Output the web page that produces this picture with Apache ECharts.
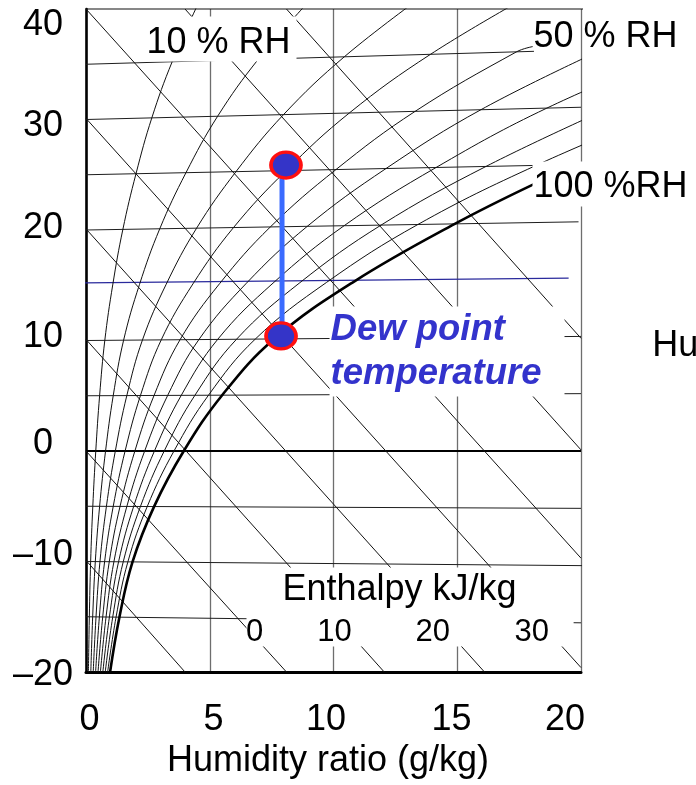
<!DOCTYPE html>
<html>
<head>
<meta charset="utf-8">
<script src="https://cdn.jsdelivr.net/npm/echarts@6/dist/echarts.min.js"></script>
<style>html,body{margin:0;padding:0;background:#fff}#chart{width:696px;height:785px}</style>
</head>
<body>
<div id="chart"></div>
<script>
// ---------------- DATA ----------------
// x = humidity ratio (g/kg), y = temperature scale (°C, skewed chart coordinate)
const xTicks = [0, 5, 10, 15, 20];
const xTickLabels = ['0', '5', '10', '15', '20'];
const yTicks = [-20, -10, 0, 10, 20, 30, 40];
const yTickLabels = ['–20', '–10', '0', '10', '20', '30', '40'];

// relative-humidity curves
const rh10 = [[0.097,-20],[0.135,-15],[0.188,-10],[0.275,-5],[0.395,0],[0.55,5.01],[0.76,10.01],[1.08,15.03],[1.49,20.06],[2.02,25.09],[2.66,30.15],[3.48,35.22],[4.5,40.33]];
const rh20 = [[0.194,-20.01],[0.27,-15.01],[0.376,-10.01],[0.55,-5.01],[0.79,0],[1.1,5.01],[1.52,10.03],[2.16,15.06],[2.98,20.11],[4.04,25.19],[5.32,30.3],[6.96,35.45],[9.0,40.67]];
const rh30 = [[0.291,-20.01],[0.405,-15.01],[0.564,-10.01],[0.825,-5.01],[1.185,0],[1.65,5.02],[2.28,10.04],[3.24,15.09],[4.47,20.17],[6.06,25.28],[7.98,30.44],[10.44,35.68],[13.5,41.0]];
const rh40 = [[0.388,-20.01],[0.54,-15.02],[0.752,-10.01],[1.1,-5.01],[1.58,0],[2.2,5.02],[3.04,10.06],[4.32,15.12],[5.96,20.22],[8.08,25.37],[10.64,30.59],[13.92,35.9],[18.0,41.33]];
const rh50 = [[0.485,-20.02],[0.675,-15.02],[0.94,-10.02],[1.375,-5.01],[1.975,0],[2.75,5.03],[3.8,10.07],[5.4,15.15],[7.45,20.28],[10.1,25.47],[13.3,30.74],[17.4,36.13],[18.05,36.6]];
const rh60 = [[0.582,-20.02],[0.81,-15.02],[1.128,-10.02],[1.65,-5.02],[2.37,0],[3.3,5.03],[4.56,10.08],[6.48,15.18],[8.94,20.33],[12.12,25.56],[15.96,30.89],[20.88,36.35]];
const rh70 = [[0.679,-20.03],[0.945,-15.03],[1.316,-10.02],[1.925,-5.02],[2.765,0],[3.85,5.04],[5.32,10.1],[7.56,15.2],[10.43,20.39],[14.14,25.65],[18.62,31.03],[24.36,36.58]];
const rh80 = [[0.776,-20.03],[1.08,-15.03],[1.504,-10.03],[2.2,-5.02],[3.16,0],[4.4,5.04],[6.08,10.11],[8.64,15.23],[11.92,20.44],[16.16,25.75],[21.28,31.18]];
const rh90 = [[0.873,-20.03],[1.215,-15.03],[1.692,-10.03],[2.475,-5.02],[3.555,0],[4.95,5.05],[6.84,10.13],[9.72,15.26],[13.41,20.5],[18.18,25.84],[23.94,31.33]];
const rh100 = [[0.97,-20.04],[1.35,-15.04],[1.88,-10.03],[2.75,-5.03],[3.95,0],[5.5,5.05],[7.6,10.14],[10.8,15.29],[14.9,20.55],[18.1,24.15]];

// dry-bulb isotherms (slightly skewed)
const isotherms = [
  [[0,35],[18.1,36.17]],
  [[0,30],[20,31.11]],
  [[0,25],[20,25.93]],
  [[0,20],[19.9,20.74]],
  [[0,10],[20,10.37]],
  [[0,5],[20,5.19]],
  [[0,-5],[20,-5.19]],
  [[0,-10],[20.3,-10.38]],
  [[0,-15],[20,-15.55]]
];
const isotherm0 = [[0,0],[20,0]];
const isotherm15 = [[-0.53,15.2],[19.5,15.65]];
const topBorder = [[0,40],[20.65,40]];

// enthalpy lines (-10 ... 60 kJ/kg)
const enthalpyLines = [
  [[0,-9.9],[4.0,-20]],
  [[0,0],[8.1,-20]],
  [[0,10.1],[12.05,-20]],
  [[0,20.1],[16.1,-20]],
  [[0,30.1],[20,-19.6]],
  [[0,40],[20,-9.7]],
  [[4.0,40],[20,0.1]],
  [[8.1,40],[20,10.2]]
];

// dew point illustration
const dewLine = [[7.92,10.41],[7.92,25.88]];
const dewMarkers = [[8.08,25.88],[7.88,10.41]];

// texts
const rhLabels = ['10 % RH', '50 % RH', '100 %RH'];
const dewLabel = 'Dew point\ntemperature';
const enthalpyTitle = 'Enthalpy kJ/kg';
const enthalpyTickLabels = ['0', '10', '20', '30'];
const xName = 'Humidity ratio (g/kg)';
const sideText = 'Hu';

// ---------------- LAYOUT / STYLE ----------------
const FONT = '"Liberation Sans", Arial, Helvetica, sans-serif';
const FS = 36;
const yShift = {'40':16,'30':7,'20':-1.5,'10':-3.5,'0':-7,'-10':-6.5,'-20':3};
const xShift = {'0':3.5,'5':3.75,'10':-7.5,'15':-5.8,'20':-16};
const yRich = {}, xRich = {};
yTicks.forEach((v, i) => {
  const s = yShift[String(v)] || 0;
  yRich['y' + i] = {fontSize: FS, fontFamily: FONT, color: '#000', lineHeight: FS,
    padding: s >= 0 ? [2 * s, 0, 0, 0] : [0, 0, -2 * s, 0]};
});
xTicks.forEach((v, i) => {
  const s = xShift[String(v)] || 0;
  xRich['x' + i] = {fontSize: FS, fontFamily: FONT, color: '#000', lineHeight: FS,
    padding: s >= 0 ? [0, 0, 0, 2 * s] : [0, -2 * s, 0, 0]};
});

const series = [];
function addLine(data, color, width, extra) {
  series.push(Object.assign({
    type: 'line', data: data, symbol: 'none', showSymbol: false, silent: true,
    animation: false, z: 2, lineStyle: {color: color, width: width}
  }, extra || {}));
}
isotherms.forEach(seg => addLine(seg, '#1e1e1e', 1, {clip: false}));
addLine(isotherm0, '#000', 2.2);
addLine(isotherm15, '#2a2a9c', 1.2, {clip: false});
addLine(topBorder, '#111', 1.2, {clip: false});
enthalpyLines.forEach(seg => addLine(seg, '#111', 1));
[rh10, rh20, rh30, rh40, rh50, rh60, rh70, rh80, rh90].forEach(c =>
  addLine(c, '#111', 1, {smooth: 0.4}));
addLine(rh100, '#000', 2.6, {smooth: 0.4});
addLine(dewLine, '#3a6bff', 5, {z: 4});

series.push({
  type: 'scatter', data: dewMarkers, symbol: 'circle', symbolSize: [30, 26],
  silent: true, animation: false, z: 6,
  itemStyle: {color: '#3434c8', borderColor: '#ff1010', borderWidth: 3.5, opacity: 1}
});

const baseLabel = {show: true, position: [0, 0], fontFamily: FONT, fontSize: FS, lineHeight: FS, color: '#000', opacity: 1};
function lbl(value, text, o) {
  return {value: value, label: Object.assign({}, baseLabel, {formatter: text}, o)};
}
series.push({
  type: 'scatter', silent: true, animation: false, clip: false, z: 10,
  symbolSize: 1, itemStyle: {color: 'rgba(0,0,0,0)', opacity: 1},
  data: [
    lbl([2.18, 39.28], rhLabels[0], {align: 'left', verticalAlign: 'top', backgroundColor: '#fff', padding: [9, 6, 0, 7]}),
    lbl([18.1, 37.4], rhLabels[1], {align: 'left', verticalAlign: 'middle'}),
    lbl([18.06, 26.15], rhLabels[2], {align: 'left', verticalAlign: 'top', backgroundColor: '#fff', padding: [8, 4, 1, 1]}),
    lbl([9.86, 13.03], dewLabel, {align: 'left', verticalAlign: 'top', backgroundColor: '#fff', padding: [1.5, 23, 0.5, 1],
      color: '#3333cc', fontWeight: 'bold', fontStyle: 'italic', fontSize: 36.5, lineHeight: 44}),
    lbl([6.505, -10.59], enthalpyTitle, {align: 'left', verticalAlign: 'top', backgroundColor: '#fff', padding: [4.5, 57, 38.5, 36]}),
    lbl([22.9, 9.41], sideText, {align: 'left', verticalAlign: 'middle'})
  ]
});
const enthalpyTickPos = [[6.83,-16.5],[10.06,-16.5],[14.03,-16.5],[18.03,-16.5]];
series.push({
  type: 'scatter', silent: true, animation: false, clip: false, z: 11,
  symbolSize: 1, itemStyle: {color: 'rgba(0,0,0,0)', opacity: 1},
  data: enthalpyTickLabels.map((t, i) => lbl(enthalpyTickPos[i], t,
    {align: 'center', verticalAlign: 'middle', fontSize: 31, lineHeight: 31}))
});

const option = {
  animation: false,
  backgroundColor: '#fff',
  textStyle: {fontFamily: FONT},
  grid: {left: 86, right: 115, top: 9, bottom: 113, containLabel: false, outerBoundsMode: 'none'},
  xAxis: {
    type: 'value', min: 0, max: 20, interval: 5,
    name: xName, nameLocation: 'middle', nameGap: 70,
    nameTextStyle: {fontSize: FS, fontFamily: FONT, color: '#000', lineHeight: FS, padding: [0, 11, 0, 0]},
    axisLine: {show: true, onZero: false, lineStyle: {color: '#000', width: 3}},
    axisTick: {show: false},
    splitLine: {show: true, lineStyle: {color: '#6e6e6e', width: 1.3}},
    axisLabel: {
      margin: 30, showMinLabel: true, showMaxLabel: true,
      formatter: v => { const i = xTicks.indexOf(v); return i < 0 ? '' : '{x' + i + '|' + xTickLabels[i] + '}'; },
      rich: xRich
    }
  },
  yAxis: {
    type: 'value', min: -20, max: 40, interval: 10,
    axisLine: {show: true, onZero: false, lineStyle: {color: '#000', width: 2.6}},
    axisTick: {show: false},
    splitLine: {show: false},
    axisLabel: {
      margin: 43, align: 'center', showMinLabel: true, showMaxLabel: true,
      formatter: v => { const i = yTicks.indexOf(v); return i < 0 ? '' : '{y' + i + '|' + yTickLabels[i] + '}'; },
      rich: yRich
    }
  },
  series: series
};
const chart = echarts.init(document.getElementById('chart'), null, {renderer: 'canvas'});
chart.setOption(option);
</script>
</body>
</html>
